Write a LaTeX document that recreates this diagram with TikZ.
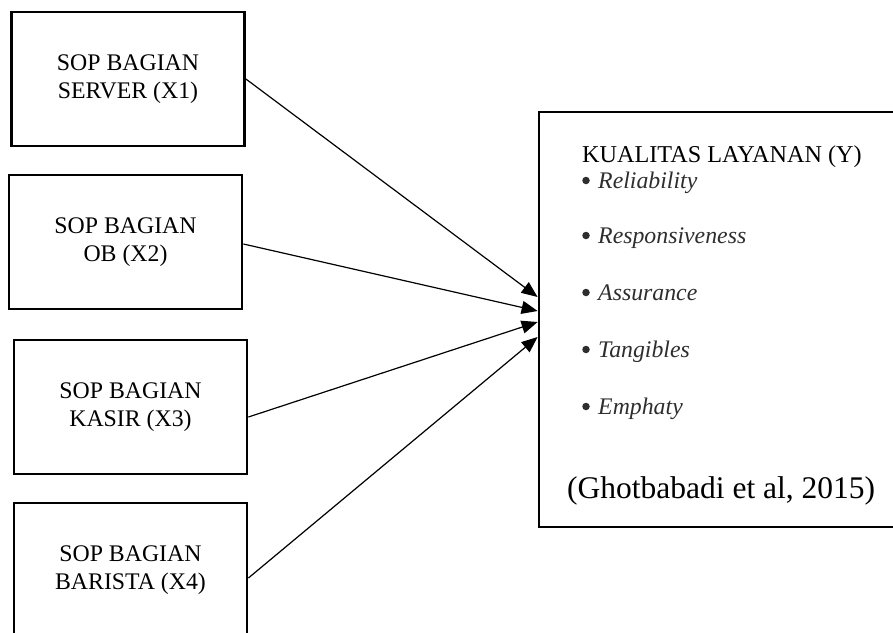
\documentclass[tikz,border=0pt]{standalone}
\usepackage{fontspec}
\setmainfont{Liberation Serif}
\usetikzlibrary{arrows.meta}
\begin{document}
\begin{tikzpicture}[x=1pt,y=-1pt,
  sbox/.style={draw, line width=2.8pt, minimum width=233pt, minimum height=134pt, inner sep=0pt, align=center, font=\fontsize{23.8}{28}\selectfont},
  ybox/.style={draw, line width=2.8pt, minimum width=360pt, minimum height=415pt, inner sep=0pt},
  ttl/.style={anchor=base west, inner sep=0pt, font=\fontsize{24.2}{28}\selectfont},
  itm/.style={anchor=base west, inner sep=0pt, text=black!82, font=\fontsize{23.8}{28}\selectfont\itshape},
  bul/.style={circle, fill=black!82, inner sep=0pt, minimum size=7.5pt},
  cite/.style={anchor=base west, inner sep=0pt, font=\fontsize{31.5}{36}\selectfont},
  conn/.style={line width=1.2pt, -{Triangle[length=16pt,width=13pt]}}
]
\useasboundingbox (0,0) rectangle (893,632);

\node[sbox] (x1) at (128,79) {SOP BAGIAN\\SERVER (X1)};
\node[sbox] (x2) at (125.5,242) {SOP BAGIAN\\OB (X2)};
\node[sbox] (x3) at (130.5,407) {SOP BAGIAN\\KASIR (X3)};
\node[sbox] (x4) at (130.5,570) {SOP BAGIAN\\BARISTA (X4)};

\node[ybox] (y) at (719,319.5) {};

\node[ttl] (yt) at (582,162) {KUALITAS LAYANAN (Y)};
\node[bul] (b1) at (586,180.5) {};
\node[itm] (i1) at (598,188) {Reliability};
\node[bul] (b2) at (586,235.5) {};
\node[itm] (i2) at (598,243) {Responsiveness};
\node[bul] (b3) at (586,292.5) {};
\node[itm] (i3) at (598,300) {Assurance};
\node[bul] (b4) at (586,349.5) {};
\node[itm] (i4) at (598,357) {Tangibles};
\node[bul] (b5) at (586,406.5) {};
\node[itm] (i5) at (598,414) {Emphaty};
\node[cite] (c) at (567,498) {(Ghotbabadi et al, 2015)};

\coordinate (h1) at (0,297);
\coordinate (h2) at (0,311);
\coordinate (h3) at (0,322);
\coordinate (h4) at (0,337);

\draw[conn] (x1.east) -- (y.west |- h1);
\draw[conn] ([yshift=-2pt]x2.east) -- (y.west |- h2);
\draw[conn] ([yshift=-10pt]x3.east) -- (y.west |- h3);
\draw[conn] ([yshift=-8pt]x4.east) -- (y.west |- h4);
\end{tikzpicture}
\end{document}
